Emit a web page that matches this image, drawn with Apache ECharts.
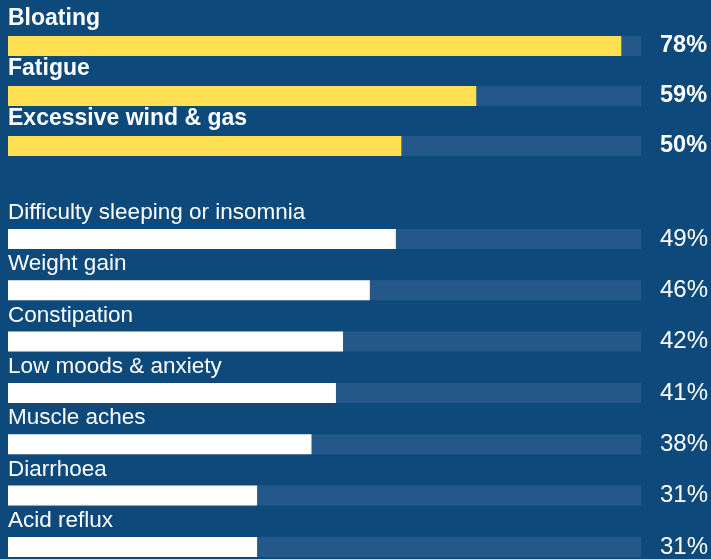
<!DOCTYPE html>
<html><head><meta charset="utf-8">
<script src="https://cdn.jsdelivr.net/npm/echarts@6/dist/echarts.min.js"></script>
<style>html,body{margin:0;padding:0;background:#0e497b;}#c{width:711px;height:559px;}</style>
</head><body><div id="c"></div>
<script>
const topCategories = ['Bloating', 'Fatigue', 'Excessive wind & gas'];
const topValues = [77.8, 59.4, 49.9];
const topLabels = ['78%', '59%', '50%'];
const bottomCategories = ['Difficulty sleeping or insomnia', 'Weight gain', 'Constipation', 'Low moods & anxiety', 'Muscle aches', 'Diarrhoea', 'Acid reflux'];
const bottomValues = [49.2, 45.9, 42.5, 41.6, 38.5, 31.6, 31.6];
const bottomLabels = ['49%', '46%', '42%', '41%', '38%', '31%', '31%'];
const trackMax = 80.3;

const FONT = '"Liberation Sans", Arial, Helvetica, sans-serif';
const chart = echarts.init(document.getElementById('c'));

function group(gi, cats, vals, labels, color, bold, nameSize, pctSize, nameOffset) {
  return [
    {
      type: 'bar', xAxisIndex: gi, yAxisIndex: gi, barWidth: 20, barGap: '-100%',
      silent: true, animation: false,
      itemStyle: { color: '#25588a' },
      data: cats.map(() => trackMax),
      label: {
        show: true, position: 'right', distance: 19, align: 'left',
        color: '#ffffff', fontFamily: FONT, fontSize: pctSize,
        fontWeight: bold ? 'bold' : 'normal',
        formatter: p => labels[p.dataIndex]
      }
    },
    {
      type: 'bar', xAxisIndex: gi, yAxisIndex: gi, barWidth: 20, barGap: '-100%',
      silent: true, animation: false,
      itemStyle: { color: color },
      data: vals,
      label: {
        show: true, position: [0, nameOffset], align: 'left', verticalAlign: 'middle',
        color: '#ffffff', fontFamily: FONT, fontSize: nameSize,
        fontWeight: bold ? 'bold' : 'normal',
        formatter: p => p.name
      }
    }
  ];
}

const axisX = i => ({ type: 'value', gridIndex: i, min: 0, max: trackMax, show: false });
const axisY = (i, cats) => ({ type: 'category', gridIndex: i, data: cats, inverse: true, show: false });

chart.setOption({
  backgroundColor: '#0e497b',
  animation: false,
  grid: [
    { left: 8, right: 70, top: 21, height: 150, outerBoundsMode: 'none' },
    { left: 8, right: 70, top: 213.3, height: 359.3, outerBoundsMode: 'none' }
  ],
  xAxis: [axisX(0), axisX(1)],
  yAxis: [axisY(0, topCategories), axisY(1, bottomCategories)],
  series: [
    ...group(0, topCategories, topValues, topLabels, '#ffe052', true, 23, 23.5, -17),
    ...group(1, bottomCategories, bottomValues, bottomLabels, '#ffffff', false, 22.5, 24, -16)
  ]
});
</script></body></html>
